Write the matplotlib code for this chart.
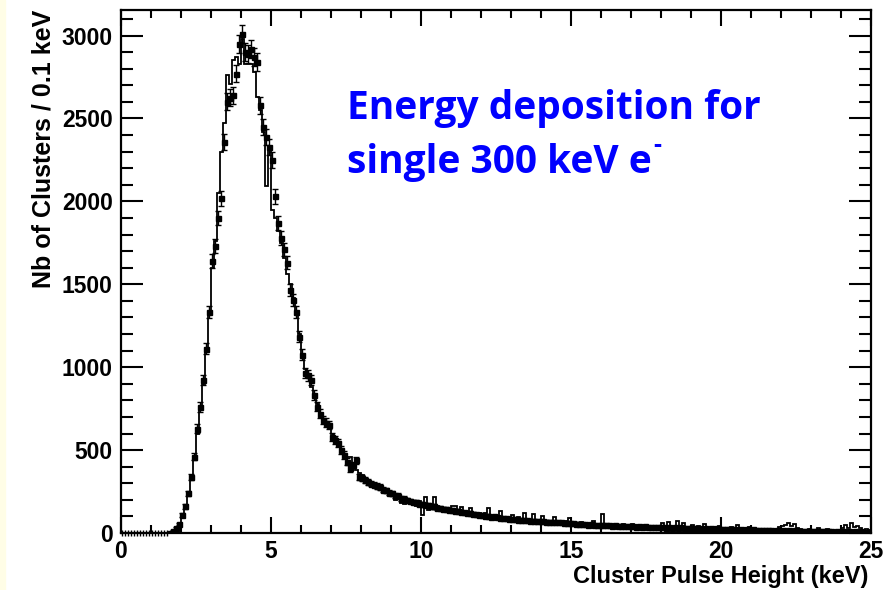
import numpy as np
import matplotlib.pyplot as plt
from matplotlib.ticker import MultipleLocator

# Binning: 0.1 keV bins from 0 to 25 keV
bin_width = 0.1
n_bins = 250

# Measured cluster counts per bin (points with errors)
data_counts = [
    0, 0, 0, 0, 0, 0, 0, 0, 0, 0,
    0, 0, 0, 0, 0, 0, 3, 15, 30, 55,
    110, 160, 240, 340, 460, 630, 760, 920, 1110, 1335,
    1640, 1730, 1900, 2020, 2360, 2600, 2625, 2640, 2770, 2950,
    3010, 2900, 2890, 2920, 2870, 2840, 2580, 2450, 2390, 2330,
    2250, 2030, 1870, 1780, 1710, 1630, 1466, 1405, 1335, 1184,
    1074, 963, 950, 920, 832, 762, 720, 682, 665, 650,
    581, 560, 541, 500, 470, 430, 390, 410, 440, 340,
    330, 318, 306, 298, 292, 282, 276, 262, 258, 244,
    240, 226, 224, 208, 206, 198, 194, 186, 184, 176,
    176, 168, 170, 160, 160, 152, 152, 144, 146, 138,
    140, 132, 131, 124, 124, 118, 120, 114, 113, 108,
    110, 104, 105, 98, 100, 94, 93, 88, 90, 85,
    86, 82, 80, 79, 76, 77, 73, 75, 70, 72,
    70, 68, 69, 65, 67, 64, 65, 61, 63, 58,
    59, 56, 57, 53, 55, 51, 53, 49, 50, 47,
    49, 46, 47, 44, 46, 43, 45, 41, 43, 40,
    42, 39, 41, 38, 40, 36, 39, 35, 37, 34,
    37, 33, 36, 32, 35, 31, 34, 30, 33, 29,
    32, 28, 31, 27, 30, 26, 29, 25, 28, 24,
    27, 23, 26, 22, 25, 21, 24, 20, 23, 19,
    22, 18, 21, 17, 20, 16, 19, 15, 18, 15,
    17, 14, 16, 13, 16, 12, 15, 12, 14, 11,
    14, 11, 13, 10, 13, 10, 12, 9, 12, 9,
    11, 9, 11, 8, 10, 8, 10, 7, 9, 7,
]

# Simulated spectrum (histogram outline)
sim_counts = [
    0, 0, 0, 0, 0, 0, 0, 0, 0, 0,
    0, 0, 0, 0, 0, 0, 2, 10, 25, 50,
    100, 150, 230, 330, 450, 600, 740, 900, 1090, 1320,
    1600, 1760, 2050, 2300, 2470, 2760, 2710, 2850, 2870, 2830,
    2980, 2830, 2830, 2830, 2780, 2630, 2550, 2420, 2090, 2310,
    1950, 1900, 1820, 1750, 1660, 1560, 1500, 1420, 1330, 1200,
    1060, 990, 950, 880, 830, 780, 720, 690, 650, 640,
    600, 570, 520, 500, 470, 460, 460, 420, 380, 360,
    350, 320, 300, 290, 290, 280, 262, 258, 250, 232,
    240, 200, 212, 182, 172, 200, 180, 170, 160, 192,
    110, 215, 140, 150, 215, 160, 140, 152, 128, 138,
    160, 162, 120, 158, 125, 110, 148, 120, 108, 118,
    100, 122, 148, 105, 102, 95, 130, 88, 92, 84,
    110, 90, 95, 82, 118, 72, 80, 112, 70, 76,
    104, 68, 66, 72, 98, 62, 75, 64, 70, 90,
    62, 56, 60, 68, 52, 57, 50, 70, 52, 50,
    112, 46, 44, 48, 46, 50, 42, 52, 44, 40,
    56, 40, 42, 38, 44, 40, 36, 42, 38, 36,
    60, 38, 64, 32, 38, 70, 34, 58, 36, 30,
    48, 30, 40, 26, 54, 32, 30, 36, 28, 44,
    26, 24, 30, 38, 28, 50, 24, 28, 22, 36,
    20, 24, 18, 22, 20, 18, 16, 20, 22, 34,
    44, 48, 60, 40, 52, 30, 26, 18, 16, 22,
    14, 12, 30, 16, 12, 24, 14, 10, 12, 16,
    30, 46, 32, 58, 38, 44, 30, 18, 24, 20,
]

x_label = 'Cluster Pulse Height (keV)'
y_label = 'Nb of Clusters / 0.1 keV'
title_lines = ['Energy deposition for', 'single 300 keV e']

edges = np.arange(n_bins + 1) * bin_width
centers = edges[:-1] + bin_width / 2
data = np.array(data_counts, dtype=float)
sim = np.array(sim_counts, dtype=float)

plt.rcParams['font.family'] = ['Liberation Sans', 'DejaVu Sans']
plt.rcParams['font.weight'] = 'bold'

fig = plt.figure(figsize=(8.85, 5.9), dpi=100)
fig.patches.append(plt.Rectangle((0, 0), 0.006, 1, transform=fig.transFigure,
                                 color='#fffde6', zorder=0))
ax = fig.add_axes([0.1367, 0.0966, 0.8475, 0.8864])

# simulation histogram
ax.stairs(sim, edges, color='black', linewidth=1.3)

# measured points with Poisson errors
nz = data > 0
ax.errorbar(centers[nz], data[nz], yerr=np.sqrt(data[nz]), fmt='s', ms=3.6,
            color='black', ecolor='black', elinewidth=1.0, capsize=2.5,
            capthick=1.0)
ax.plot(centers[~nz], data[~nz], '|', color='black', ms=5, mew=1.0,
        clip_on=False)

ax.set_xlim(0, 25)
ax.set_ylim(0, 3154)

ax.xaxis.set_major_locator(MultipleLocator(5))
ax.xaxis.set_minor_locator(MultipleLocator(1))
ax.yaxis.set_major_locator(MultipleLocator(500))
ax.yaxis.set_minor_locator(MultipleLocator(100))
ax.tick_params(which='both', direction='in', top=True, right=True,
               labelsize=16.5, width=1.5, colors='black')
ax.tick_params(axis='x', which='major', length=11.5, pad=5)
ax.tick_params(axis='x', which='minor', length=5.8)
ax.tick_params(axis='y', which='major', length=15.8, pad=6)
ax.tick_params(axis='y', which='minor', length=8.6)
for lab in ax.get_xticklabels() + ax.get_yticklabels():
    lab.set_fontweight('bold')
for s in ax.spines.values():
    s.set_linewidth(1.6)

fig.text(0.981, 0.012, x_label, ha='right', va='baseline', fontsize=17,
         fontweight='bold')
fig.text(0.049, 0.983, y_label, ha='center', va='top', rotation=90,
         fontsize=18, fontweight='bold')

blue = '#0000ff'
ax.text(0.302, 0.792, title_lines[0], transform=ax.transAxes, color=blue,
        fontsize=28, fontweight='bold', family='Open Sans', va='baseline')
t2 = ax.text(0.302, 0.688, title_lines[1], transform=ax.transAxes, color=blue,
             fontsize=28, fontweight='bold', family='Open Sans', va='baseline')
ax.annotate('-', xy=(1, 0.62), xycoords=t2, xytext=(1, 0),
            textcoords='offset points', color=blue, fontsize=18,
            fontweight='bold', family='Open Sans', va='bottom')

fig.savefig('out.png', dpi=100)
